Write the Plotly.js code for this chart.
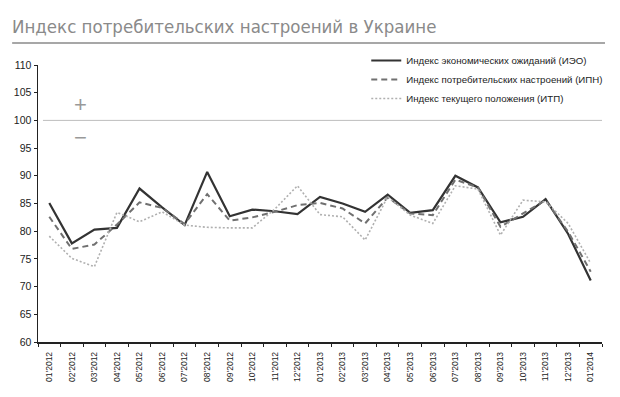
<!DOCTYPE html>
<html>
<head>
<meta charset="utf-8">
<script src="https://cdn.plot.ly/plotly-3.0.1.min.js"></script>
<style>html,body{margin:0;padding:0;background:#fff;}#chart{width:620px;height:397px;}</style>
</head>
<body>
<div id="chart"></div>
<script>
const months = ["01'2012","02'2012","03'2012","04'2012","05'2012","06'2012","07'2012","08'2012","09'2012","10'2012","11'2012","12'2012",
  "01'2013","02'2013","03'2013","04'2013","05'2013","06'2013","07'2013","08'2013","09'2013","10'2013","11'2013","12'2013","01'2014"];
const ieo = [85.1,77.8,80.3,80.6,87.7,84.3,81.1,90.7,82.7,83.9,83.6,83.1,86.2,85.0,83.5,86.6,83.3,83.8,90.0,87.9,81.6,82.6,85.8,79.5,71.1];
const ipn = [82.6,76.8,77.6,81.2,85.2,84.2,81.3,86.7,81.9,82.5,83.5,84.7,85.1,84.1,81.4,86.1,83.2,82.9,89.3,87.9,80.8,83.2,85.6,79.9,72.7];
const itp = [79.1,75.1,73.6,83.4,81.7,83.5,81.1,80.7,80.6,80.6,84.0,88.2,83.0,82.6,78.4,86.2,82.9,81.4,88.2,87.6,79.3,85.6,85.3,81.4,74.2];
const names = ["Индекс экономических ожиданий (ИЭО)","Индекс потребительских настроений (ИПН)","Индекс текущего положения (ИТП)"];
const yTicks = [60,65,70,75,80,85,90,95,100,105,110];

const traces = [
  {x: months, y: ieo, name: names[0], type: 'scatter', mode: 'lines', line: {color: '#333333', width: 2.2}},
  {x: months, y: ipn, name: names[1], type: 'scatter', mode: 'lines', line: {color: '#707070', width: 2, dash: '6px,4px'}},
  {x: months, y: itp, name: names[2], type: 'scatter', mode: 'lines', line: {color: '#b0b0b0', width: 1.6, dash: '2px,2px'}}
];

const condensed = '"DejaVu Sans Condensed", "Liberation Sans Narrow", "Liberation Sans", sans-serif';

const layout = {
  width: 620, height: 397,
  margin: {l: 38, r: 15, t: 65, b: 55, pad: 0},
  paper_bgcolor: '#fff', plot_bgcolor: '#fff',
  showlegend: true,
  title: {text: 'Индекс потребительских настроений в Украине', x: 12/620, xanchor: 'left', y: 1 - 33/397, yanchor: 'bottom',
          font: {family: condensed, size: 18.5, color: '#8a8a8a'}},
  legend: {x: (368-38)/567, xanchor: 'left', y: 1 + (65-46)/277, yanchor: 'top', bgcolor: 'rgba(0,0,0,0)',
           font: {family: 'Liberation Sans', size: 9.7, color: '#222'}, tracegroupgap: 0},
  xaxis: {type: 'category', range: [-0.5, 24.5], showgrid: false, zeroline: false, showline: true, linecolor: '#222', linewidth: 1.5,
          ticks: 'outside', ticklen: 3, tickcolor: '#222', tickson: 'boundaries', tickangle: -90, automargin: false,
          ticklabelstandoff: 5,
          tickfont: {family: 'Liberation Sans', size: 8.5, color: '#222'}},
  yaxis: {range: [60, 110], tickvals: yTicks, showgrid: false, zeroline: false, showline: true, linecolor: '#222', linewidth: 1.5,
          ticks: 'outside', ticklen: 3, tickcolor: '#222', automargin: false,
          tickfont: {family: 'Liberation Sans', size: 10.5, color: '#222'}},
  shapes: [
    {type: 'line', xref: 'paper', yref: 'paper', x0: (12-38)/567, x1: (608-38)/567, y0: 1 + 22/277, y1: 1 + 22/277, line: {color: '#8a8a8a', width: 1.5}},
    {type: 'line', xref: 'paper', yref: 'y', x0: 5/567, x1: 1, y0: 100, y1: 100, line: {color: '#bdbdbd', width: 1}}
  ],
  annotations: [
    {xref: 'paper', yref: 'y', x: (72-38)/567, y: 102.9, text: '+', showarrow: false, font: {family: 'Liberation Sans', size: 22, color: '#999'}},
    {xref: 'paper', yref: 'y', x: (72-38)/567, y: 96.9, text: '−', showarrow: false, font: {family: 'Liberation Sans', size: 22, color: '#999'}}
  ]
};

Plotly.newPlot('chart', traces, layout, {displayModeBar: false, staticPlot: true});
</script>
</body>
</html>
